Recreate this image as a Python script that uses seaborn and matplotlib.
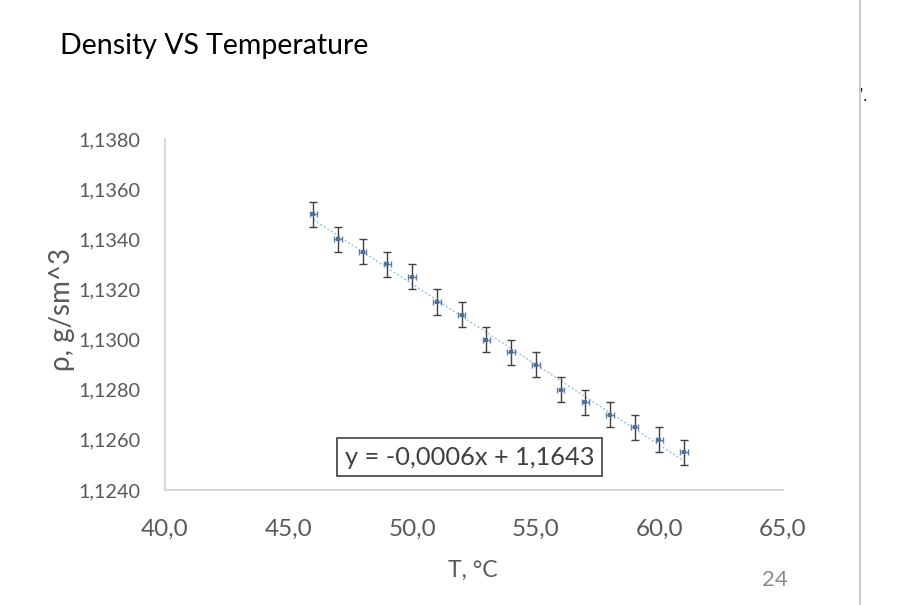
import numpy as np
import pandas as pd
import matplotlib
matplotlib.use("Agg")
import matplotlib.pyplot as plt
from matplotlib.ticker import FuncFormatter, MultipleLocator
import seaborn as sns

# ---- data ----
temperature = [46, 47, 48, 49, 50, 51, 52, 53, 54, 55, 56, 57, 58, 59, 60, 61]
density = [1.1350, 1.1340, 1.1335, 1.1330, 1.1325, 1.1315, 1.1310, 1.1300,
           1.1295, 1.1290, 1.1280, 1.1275, 1.1270, 1.1265, 1.1260, 1.1255]
density_err = 0.0005
temperature_err = 0.15
title = "Density VS Temperature"
equation = "y = -0,0006x + 1,1643"
x_label = "T, °C"
y_label = "ρ, g/sm^3"
page_number = "24"

df = pd.DataFrame({"T": temperature, "rho": density})

sns.set_style("white")
plt.rcParams["font.family"] = ["Lato", "DejaVu Sans"]

fig = plt.figure(figsize=(9, 6.05), dpi=100)
ax = fig.add_axes([165 / 900, 1 - 490 / 605, (783 - 165) / 900, (490 - 139) / 605])

# trendline
sns.regplot(data=df, x="T", y="rho", scatter=False, ci=None, ax=ax,
            line_kws=dict(color="#9dc3e6", lw=1.0, ls=(0, (1.5, 1.5))))

# error bars
ax.errorbar(temperature, density, yerr=density_err, fmt="none",
            ecolor="#404040", elinewidth=1.0, capsize=3, capthick=1.0, zorder=3)
ax.errorbar(temperature, density, xerr=temperature_err, fmt="none",
            ecolor="#5b7fa6", elinewidth=1.0, capsize=2, capthick=1.0, zorder=3)
sns.scatterplot(data=df, x="T", y="rho", ax=ax, marker="s", s=10,
                color="#4f6f94", edgecolor="#4f6f94", linewidth=0, zorder=4)

ax.set_xlim(40, 65)
ax.set_ylim(1.124, 1.138)
ax.xaxis.set_major_locator(MultipleLocator(5))
ax.yaxis.set_major_locator(MultipleLocator(0.002))
ax.xaxis.set_major_formatter(FuncFormatter(lambda v, p: f"{v:.1f}".replace(".", ",")))
ax.yaxis.set_major_formatter(FuncFormatter(lambda v, p: f"{v:.4f}".replace(".", ",")))
ax.tick_params(axis="both", length=0, colors="#595959")
ax.tick_params(axis="x", labelsize=17.5, pad=21)
ax.tick_params(axis="y", labelsize=14.3, pad=18)

for s in ["top", "right"]:
    ax.spines[s].set_visible(False)
for s in ["left", "bottom"]:
    ax.spines[s].set_color("#d0d0d0")
    ax.spines[s].set_linewidth(1.2)

ax.set_xlabel(x_label, fontsize=16.5, color="#595959")
ax.set_ylabel(y_label, fontsize=20, color="#595959")
ax.xaxis.set_label_coords(0.498, -0.2)
ax.yaxis.set_label_coords(-0.145, 0.513)

# equation box
ax.text(0.493, 0.094, equation, transform=ax.transAxes, fontsize=18.3,
        color="#404040", ha="center", va="center",
        bbox=dict(boxstyle="square,pad=0.3", fc="white", ec="#404040", lw=1.2))

fig.text(60 / 900, 1 - 46 / 605, title, fontsize=20.5, color="#000000",
         ha="left", va="center")
fig.text(775 / 900, 1 - 580 / 605, page_number, fontsize=16, color="#8c8c8c",
         ha="center", va="center")
fig.add_artist(plt.Line2D([860 / 900, 860 / 900], [0, 1], color="#c8c8c8", lw=1.5))
fig.text(864 / 900, 1 - 96 / 605, "'.", fontsize=12, color="#222222",
         ha="center", va="center")

fig.savefig("out.png", dpi=100)
